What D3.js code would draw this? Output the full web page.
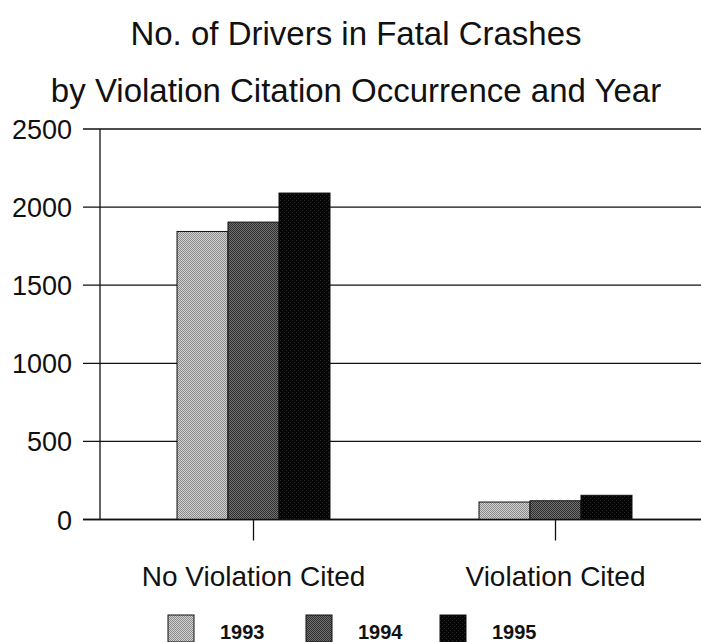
<!DOCTYPE html>
<html><head><meta charset="utf-8">
<script src="https://cdn.jsdelivr.net/npm/d3@7"></script>
<style>body{margin:0;background:#fff}svg{display:block;font-family:Arial,"Liberation Sans",sans-serif}</style>
</head><body><svg id="c" width="701" height="642"></svg>
<script>
const categories = ["No Violation Cited", "Violation Cited"];
const years = ["1993", "1994", "1995"];
const values1993 = [1844, 112];
const values1994 = [1904, 120];
const values1995 = [2090, 155];
const yTicks = [0, 500, 1000, 1500, 2000, 2500];
const titleLines = ["No. of Drivers in Fatal Crashes", "by Violation Citation Occurrence and Year"];

(function () {
const series = [values1993, values1994, values1995];
const svg = d3.select("#c");
const defs = svg.append("defs");
function pat(id, bg, fg, size) {
  const p = defs.append("pattern").attr("id", id).attr("width", size).attr("height", size).attr("patternUnits", "userSpaceOnUse");
  p.append("rect").attr("width", size).attr("height", size).attr("fill", bg);
  p.append("rect").attr("width", 1).attr("height", 1).attr("fill", fg);
  p.append("rect").attr("x", size/2).attr("y", size/2).attr("width", 1).attr("height", 1).attr("fill", fg);
}
pat("p93", "#d2d2d2", "#8a8a8a", 2);
pat("p94", "#707070", "#303030", 2);
pat("p95", "#050505", "#2a2a2a", 4);
const fills = ["url(#p93)", "url(#p94)", "url(#p95)"];

const axisX = 100, pt = 129, pb = 519.5;
const y = d3.scaleLinear().domain([0, 2500]).range([pb, pt]);
const x0 = d3.scaleBand().domain(categories).range([102.5, 706.5]);
const x1 = d3.scaleBand().domain(years).range([0, 153]);
const groupOffset = (x0.bandwidth() - 153) / 2;

svg.selectAll(".title").data(titleLines).join("text")
  .attr("x", 356).attr("y", (d, i) => 45 + i * 57)
  .attr("text-anchor", "middle").attr("font-size", 33).attr("fill", "#111").text(d => d);

svg.append("g").selectAll("line").data(yTicks).join("line")
  .attr("x1", 83).attr("x2", 701).attr("y1", d => y(d)).attr("y2", d => y(d))
  .attr("stroke", "#111").attr("stroke-width", 1.3);

svg.append("g").selectAll("text").data(yTicks).join("text")
  .attr("x", 72).attr("y", d => y(d) + 10).attr("text-anchor", "end")
  .attr("font-size", 27).attr("fill", "#111").text(d => d);

svg.append("line").attr("x1", axisX).attr("x2", axisX).attr("y1", pt).attr("y2", pb)
  .attr("stroke", "#111").attr("stroke-width", 1.3);

const g = svg.append("g");
categories.forEach((c, ci) => {
  years.forEach((yr, yi) => {
    const v = series[yi][ci];
    g.append("rect")
      .attr("x", x0(c) + groupOffset + x1(yr))
      .attr("y", y(v)).attr("width", x1.bandwidth()).attr("height", pb - y(v))
      .attr("fill", fills[yi]).attr("stroke", "#111").attr("stroke-width", 1);
  });
});

svg.append("line").attr("x1", 83).attr("x2", 701).attr("y1", pb).attr("y2", pb)
  .attr("stroke", "#111").attr("stroke-width", 1.6);

const xa = svg.append("g");
categories.forEach(c => {
  const cx = x0(c) + x0.bandwidth() / 2;
  xa.append("line").attr("x1", cx).attr("x2", cx).attr("y1", pb).attr("y2", pb + 21)
    .attr("stroke", "#111").attr("stroke-width", 1.3);
  xa.append("text").attr("x", cx).attr("y", 586).attr("text-anchor", "middle")
    .attr("font-size", 28).attr("fill", "#111").text(c);
});

const lx = [168, 306, 440];
const leg = svg.append("g");
years.forEach((yr, i) => {
  leg.append("rect").attr("x", lx[i]).attr("y", 615).attr("width", 26).attr("height", 27)
    .attr("fill", fills[i]).attr("stroke", "#111").attr("stroke-width", 1);
  leg.append("text").attr("x", lx[i] + 52).attr("y", 639).attr("font-size", 20)
    .attr("font-weight", "bold").attr("fill", "#111").text(yr);
});
})();
</script></body></html>
